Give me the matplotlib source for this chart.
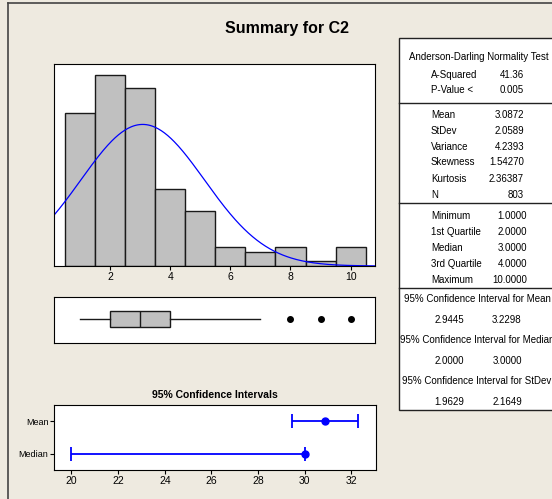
import numpy as np
import matplotlib
matplotlib.use("Agg")
import matplotlib.pyplot as plt
from matplotlib.patches import Rectangle
from matplotlib.lines import Line2D

# histogram of C2 (integer values, one bin per value)
bin_centers = [1, 2, 3, 4, 5, 6, 7, 8, 9, 10]
counts = [168, 210, 196, 85, 60, 21, 15, 21, 6, 21]

# summary statistics
n_obs = 803
mean_val = 3.0872
sd_val = 2.0589

# boxplot stats
box_q1, box_med, box_q3 = 2.0, 3.0, 4.0
box_whislo, box_whishi = 1.0, 7.0
box_fliers = [8, 9, 10]

# 95% CI panel (as plotted)
ci_labels = ["Mean", "Median"]
ci_center = [30.872, 30.0]
ci_low = [29.445, 20.0]
ci_high = [32.298, 30.0]
ci_ticks = [20, 22, 24, 26, 28, 30, 32]

# stats table
ad_labels = ["A-Squared", "P-Value <"]
ad_values = ["41.36", "0.005"]
mom_labels = ["Mean", "StDev", "Variance", "Skewness", "Kurtosis", "N"]
mom_values = ["3.0872", "2.0589", "4.2393", "1.54270", "2.36387", "803"]
q_labels = ["Minimum", "1st Quartile", "Median", "3rd Quartile", "Maximum"]
q_values = ["1.0000", "2.0000", "3.0000", "4.0000", "10.0000"]
ci_heads = ["95% Confidence Interval for Mean",
            "95% Confidence Interval for Median",
            "95% Confidence Interval for StDev"]
ci_pairs = [("2.9445", "3.2298"), ("2.0000", "3.0000"), ("1.9629", "2.1649")]

W, H = 552, 499
BG = "#EEEAE0"
plt.rcParams["font.family"] = ["Liberation Sans", "DejaVu Sans"]


def fx(x):
    return x / W


def fy(y):
    return 1 - y / H


def ax_rect(x0, y0, x1, y1):
    return [fx(x0), fy(y1), fx(x1) - fx(x0), fy(y0) - fy(y1)]


fig = plt.figure(figsize=(W / 100, H / 100), dpi=100, facecolor=BG)

# outer frame lines
fig.add_artist(Line2D([fx(8), fx(8)], [0, fy(3)], color="#444444", lw=1.2))
fig.add_artist(Line2D([fx(8), 1], [fy(3), fy(3)], color="#444444", lw=1.2))

fig.text(fx(287), fy(29), "Summary for C2", ha="center", va="center",
         fontsize=11.5, fontweight="bold")

xlim = (0.14, 10.81)

# histogram
ax = fig.add_axes(ax_rect(54, 64, 375, 266))
ax.bar(bin_centers, counts, width=1.0, color="#C0C0C0", edgecolor="#1a1a1a", linewidth=1.0)
xs = np.linspace(xlim[0], xlim[1], 300)
ys = n_obs * np.exp(-0.5 * ((xs - mean_val) / sd_val) ** 2) / (sd_val * np.sqrt(2 * np.pi))
ax.plot(xs, ys, color="#0000FF", lw=0.9)
ax.set_xlim(*xlim)
ax.set_ylim(0, 222)
ax.set_xticks([2, 4, 6, 8, 10])
ax.set_yticks([])
ax.tick_params(axis="x", length=3, labelsize=7.5, pad=1.5)

# boxplot
bx = fig.add_axes(ax_rect(54, 297, 375, 343))
stats = [dict(med=box_med, q1=box_q1, q3=box_q3, whislo=box_whislo,
              whishi=box_whishi, fliers=box_fliers)]
bx.bxp(stats, positions=[0.52], widths=0.35, vert=False, patch_artist=True,
       showcaps=False,
       boxprops=dict(facecolor="#C0C0C0", edgecolor="#1a1a1a", lw=1.0),
       medianprops=dict(color="#1a1a1a", lw=1.0),
       whiskerprops=dict(color="#1a1a1a", lw=1.0),
       flierprops=dict(marker="o", markerfacecolor="black", markeredgecolor="black",
                       markersize=4))
bx.set_xlim(*xlim)
bx.set_ylim(0, 1)
bx.set_xticks([])
bx.set_yticks([])

# confidence intervals
fig.text(fx(215), fy(395), "95% Confidence Intervals", ha="center", va="center",
         fontsize=7.5, fontweight="bold")
cx = fig.add_axes(ax_rect(54, 405, 376, 470))
ypos = [2, 1]
for y, c, lo, hi in zip(ypos, ci_center, ci_low, ci_high):
    cx.errorbar([c], [y], xerr=[[c - lo], [hi - c]], fmt="o", color="#0000FF",
                ms=5, lw=1.3, capsize=5, capthick=1.3)
cx.set_xlim(19.25, 33.06)
cx.set_ylim(0.5, 2.5)
cx.set_yticks(ypos)
cx.set_yticklabels(ci_labels, fontsize=6.5)
cx.set_xticks(ci_ticks)
cx.tick_params(axis="x", length=3, labelsize=7.5, pad=1.5)
cx.tick_params(axis="y", length=3, pad=1)

# stats table
fig.add_artist(Rectangle((fx(399), fy(410)), 1 - fx(399) + 0.01, fy(38) - fy(410),
                         transform=fig.transFigure, facecolor="white",
                         edgecolor="#222222", lw=1.0))
for ydiv in [102.5, 203, 287.5]:
    fig.add_artist(Line2D([fx(399), 1], [fy(ydiv), fy(ydiv)], color="#222222", lw=1.0))

tk = dict(fontsize=7, va="center")
fig.text(fx(479), fy(57), "Anderson-Darling Normality Test", ha="center", **tk)
for i, (lab, val) in enumerate(zip(ad_labels, ad_values)):
    y = 75 + 15 * i
    fig.text(fx(431), fy(y), lab, ha="left", **tk)
    fig.text(fx(524), fy(y), val, ha="right", **tk)
for i, (lab, val) in enumerate(zip(mom_labels, mom_values)):
    y = 114.5 + 16 * i
    fig.text(fx(431), fy(y), lab, ha="left", **tk)
    fig.text(fx(524), fy(y), val, ha="right", **tk)
for i, (lab, val) in enumerate(zip(q_labels, q_values)):
    y = 216 + 16 * i
    fig.text(fx(431), fy(y), lab, ha="left", **tk)
    fig.text(fx(527), fy(y), val, ha="right", **tk)
for i, (head, (a, b)) in enumerate(zip(ci_heads, ci_pairs)):
    y = 299 + 41 * i
    fig.text(fx(477), fy(y), head, ha="center", **tk)
    fig.text(fx(449), fy(y + 21), a, ha="center", **tk)
    fig.text(fx(507), fy(y + 21), b, ha="center", **tk)

fig.savefig("out.png", dpi=100, facecolor=BG)
